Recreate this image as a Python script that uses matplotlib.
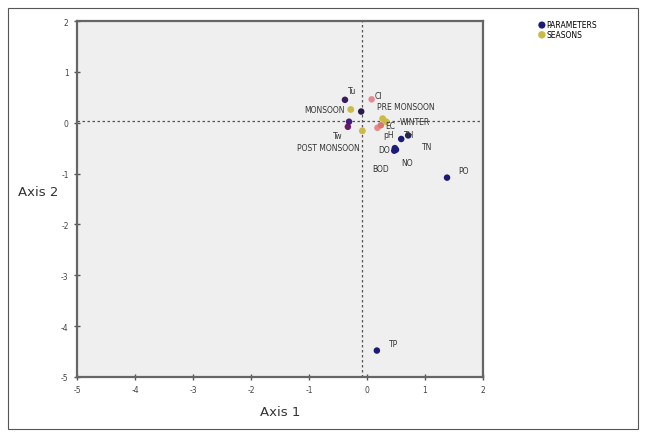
import matplotlib
matplotlib.use("Agg")
import matplotlib.pyplot as plt
from matplotlib.patches import Rectangle

plt.rcParams["axes.unicode_minus"] = False

# ---- data ----
param_names = ["TP", "PO", "NO", "BOD", "DO", "TN", "TH", "Tu", "Cl", "Tw", "pH", "EC", "TDS", "Alk"]
param_x = [0.17, 1.38, 0.50, 0.48, 0.47, 0.71, 0.59, -0.38, 0.08, -0.33, 0.18, 0.24, -0.10, -0.31]
param_y = [-4.48, -1.08, -0.53, -0.50, -0.55, -0.25, -0.32, 0.45, 0.46, -0.08, -0.10, -0.05, 0.22, 0.02]

season_names = ["MONSOON", "PRE MONSOON", "WINTER", "POST MONSOON"]
season_x = [-0.28, 0.27, 0.33, -0.08]
season_y = [0.26, 0.08, 0.02, -0.16]

x_ticks = [-5, -4, -3, -2, -1, 0, 1, 2]
y_ticks = [-5, -4, -3, -2, -1, 0, 1, 2]
ref_x = -0.08
ref_y = 0.03

# ---- styles ----
navy = "#1c1c78"
olive = "#c9bb45"
param_colors = [navy, navy, navy, navy, navy, navy, navy, "#3a1a5a", "#e58a95",
                "#6a1a6a", "#e88a8a", "#d9786e", "#2a1a4a", "#4a1a7a"]
param_lbl = {
    "TP": (9, 5, "left"), "PO": (8, 5, "left"), "NO": (4, -9, "left"),
    "BOD": (-10, -15, "center"), "DO": (-3, 1, "right"), "TN": (10, -8, "left"),
    "TH": (2, 3, "left"), "Tu": (2, 7, "left"), "Cl": (2, 3, "left"),
    "Tw": (-4, -6, "right"), "pH": (4, -5, "left"), "EC": (3, 0, "left"),
    "TDS": (0, 0, None), "Alk": (0, 0, None),
}
season_lbl = {
    "MONSOON": (-4, 0, "right"), "PRE MONSOON": (-4, 9, "left"),
    "WINTER": (10, 0, "left"), "POST MONSOON": (-2, -12, "right"),
}

fig = plt.figure(figsize=(6.45, 4.39), dpi=100)
fig.patch.set_facecolor("white")
fig.patches.append(Rectangle((8 / 645, 9 / 439), 630 / 645, 421 / 439,
                             transform=fig.transFigure, fill=False,
                             edgecolor="#555555", linewidth=0.8))

ax = fig.add_axes([77 / 645, 1 - 378 / 439, 406 / 645, 356 / 439])
ax.set_facecolor("#efefef")
ax.set_xlim(-5, 2)
ax.set_ylim(-5, 2)
ax.set_xticks(x_ticks)
ax.set_yticks(y_ticks)
ax.tick_params(direction="inout", length=5, width=1, colors="#555555",
               labelsize=5.5, labelcolor="#444444")
for s in ax.spines.values():
    s.set_color("#666666")
    s.set_linewidth(1.6)

ax.axvline(ref_x, color="#555555", linestyle=(0, (2, 2)), linewidth=0.9, zorder=1)
ax.axhline(ref_y, color="#555555", linestyle=(0, (2, 2)), linewidth=0.9, zorder=1)

ax.scatter(param_x, param_y, s=22, c=param_colors, edgecolors="none", zorder=3,
           label="PARAMETERS")
ax.scatter(season_x, season_y, s=24, c=olive, edgecolors="none", zorder=3,
           label="SEASONS")

for n, x, y in zip(param_names, param_x, param_y):
    dx, dy, ha = param_lbl[n]
    if ha is None:
        continue
    ax.annotate(n, (x, y), xytext=(dx, dy), textcoords="offset points",
                ha=ha, va="center", fontsize=5.5, color="#333333", zorder=4)
for n, x, y in zip(season_names, season_x, season_y):
    dx, dy, ha = season_lbl[n]
    ax.annotate(n, (x, y), xytext=(dx, dy), textcoords="offset points",
                ha=ha, va="center", fontsize=5.5, color="#333333", zorder=4)

ax.set_xlabel("Axis 1", fontsize=9.5, color="#333333", labelpad=8)
fig.text(38 / 645, 1 - 193 / 439, "Axis 2", fontsize=9.5, color="#333333",
         ha="center", va="center")

fig.legend(handles=ax.collections[:2], labels=["PARAMETERS", "SEASONS"],
           loc="upper left", bbox_to_anchor=(535 / 645, 1 - 18 / 439),
           frameon=False, fontsize=5.5, handletextpad=0.1, labelspacing=0.1,
           markerscale=1.1, borderaxespad=0, handlelength=1.0)

fig.savefig("out.png", dpi=100)
